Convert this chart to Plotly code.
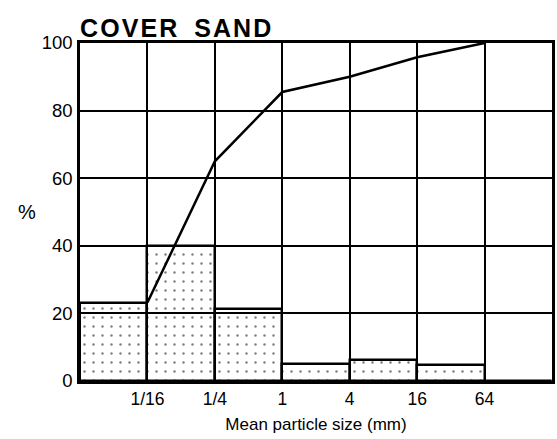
import plotly.graph_objects as go

# size classes: boundaries between the columns
BIN_POSITIONS = [0.5, 1.5, 2.5, 3.5, 4.5, 5.5, 6.5]
PERCENT_IN_CLASS = [23.2, 40.0, 21.4, 5.0, 6.1, 4.6, 0.0]

BOUNDARY_POSITIONS = [1, 2, 3, 4, 5, 6]
BOUNDARY_LABELS = ["1/16", "1/4", "1", "4", "16", "64"]
CUMULATIVE_PERCENT = [23.2, 65.0, 85.5, 90.0, 95.8, 100.0]

Y_TICKS = [0, 20, 40, 60, 80, 100]

FONT = "Liberation Sans, Arial, sans-serif"
HAIR = "\u200a"


def _spaced(word: str) -> str:
    """Loosen the letters of a word a little (hair spaces)."""
    return HAIR.join(word)


fig = go.Figure()

fig.add_trace(
    go.Bar(
        x=BIN_POSITIONS,
        y=PERCENT_IN_CLASS,
        width=1,
        marker={
            "color": "rgba(0,0,0,0)",
            "line": {"color": "black", "width": 2.5},
            "pattern": {
                "shape": ".",
                "fgcolor": "black",
                "bgcolor": "rgba(0,0,0,0)",
                "fillmode": "overlay",
                "size": 9,
                "solidity": 0.06,
            },
        },
        showlegend=False,
        hoverinfo="skip",
    )
)

fig.add_trace(
    go.Scatter(
        x=BOUNDARY_POSITIONS,
        y=CUMULATIVE_PERCENT,
        mode="lines",
        line={"color": "black", "width": 2.5},
        showlegend=False,
    )
)

fig.update_layout(
    width=557,
    height=439,
    margin={"l": 80, "r": 2, "t": 43, "b": 58},
    paper_bgcolor="white",
    plot_bgcolor="white",
    font={"family": FONT, "size": 17, "color": "black"},
    bargap=0,
    xaxis={
        "range": [0, 7],
        "tickvals": BOUNDARY_POSITIONS,
        "ticktext": BOUNDARY_LABELS,
        "showgrid": True,
        "gridcolor": "black",
        "gridwidth": 2,
        "showline": True,
        "linecolor": "black",
        "linewidth": 2.5,
        "mirror": True,
        "zeroline": False,
        "ticks": "",
        "tickfont": {"size": 17.5},
        "title": {
            "text": "Mean particle size (mm)",
            "font": {"size": 17},
            "standoff": 11,
        },
    },
    yaxis={
        "range": [0, 100],
        "tickvals": Y_TICKS,
        "showgrid": True,
        "gridcolor": "black",
        "gridwidth": 2,
        "showline": True,
        "linecolor": "black",
        "linewidth": 2.5,
        "mirror": True,
        "zeroline": False,
        "ticks": "outside",
        "ticklen": 1,
        "tickcolor": "rgba(0,0,0,0)",
        "tickfont": {"size": 18.5},
    },
)

fig.add_annotation(
    text="<b>" + _spaced("COVER") + "\u2009 \u2009" + _spaced("SAND") + "</b>",
    xref="paper",
    yref="paper",
    x=0,
    y=1,
    xanchor="left",
    yanchor="bottom",
    xshift=-2,
    yshift=-1,
    showarrow=False,
    font={"size": 25, "family": FONT},
)

fig.add_annotation(
    text="%",
    xref="paper",
    yref="paper",
    x=-0.1,
    y=0.5,
    xanchor="center",
    yanchor="middle",
    xshift=-6,
    showarrow=False,
    font={"size": 20, "family": FONT},
)

# the page body has a default 8px margin; drop it so the figure fills the window
fig.write_html(
    "out.html",
    config={"displayModeBar": False},
    post_script="document.body.style.margin = '0';",
)
